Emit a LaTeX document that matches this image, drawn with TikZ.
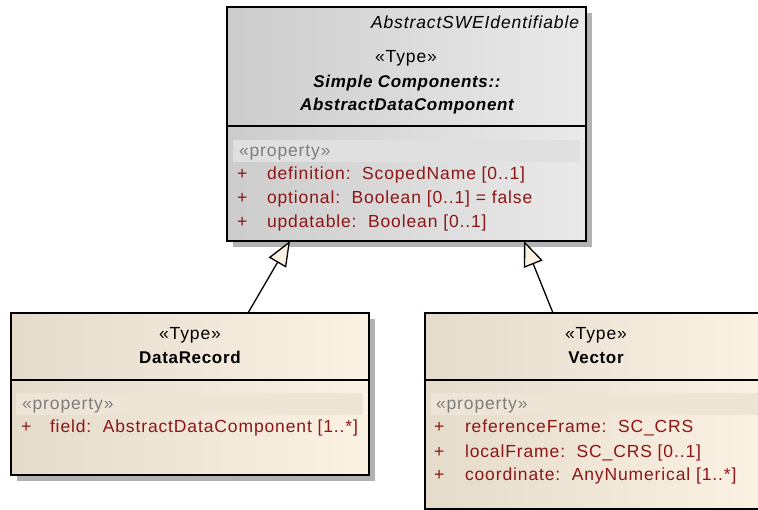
\documentclass[tikz,border=0pt]{standalone}
\usepackage{fontspec}
\setmainfont[LetterSpace=5]{Liberation Sans}
\newfontfamily\boldfam[LetterSpace=4]{Liberation Sans}
\usetikzlibrary{arrows.meta}
\definecolor{grayL}{RGB}{204,204,204}
\definecolor{grayR}{RGB}{234,234,234}
\definecolor{creamL}{RGB}{229,219,203}
\definecolor{creamR}{RGB}{252,242,228}
\definecolor{propband}{RGB}{224,224,224}
\definecolor{propbandC}{RGB}{239,229,215}
\definecolor{attrc}{RGB}{140,22,22}
\definecolor{stereoc}{RGB}{125,125,125}
\definecolor{shadowc}{RGB}{178,178,178}
\definecolor{arrowfill}{RGB}{251,241,227}
\tikzset{
  every node/.style={inner sep=0pt, outer sep=0pt},
  fnt/.style={font=\fontsize{17.5}{20}\selectfont},
  fit/.style={font=\fontsize{17.5}{20}\selectfont\itshape},
  fbi/.style={font=\boldfam\fontsize{17}{20}\selectfont\bfseries\itshape},
  fbd/.style={font=\boldfam\fontsize{17}{20}\selectfont\bfseries},
  attrtxt/.style={fnt, text=attrc, anchor=base west},
  stereotxt/.style={fnt, text=stereoc, anchor=base west},
  graybox/.style={draw=black, line width=1.5pt, left color=grayL, right color=grayR, anchor=north west},
  creambox/.style={draw=black, line width=1.5pt, left color=creamL, right color=creamR, anchor=north west},
  shadowbox/.style={fill=shadowc},
  divider/.style={draw=black, line width=1.5pt},
  gen/.style={draw=black, line width=1.3pt, -{Triangle[length=25pt, width=20pt, fill=arrowfill]}},
}
\begin{document}
\begin{tikzpicture}[x=1pt, y=-1pt]
\clip (0,0) rectangle (758,510);
\fill[white] (0,0) rectangle (758,510);

% ---------- top class ----------
\fill[shadowbox] (233,13) rectangle (592,247);
\node[graybox, minimum width=359pt, minimum height=234pt] (top) at (227,7) {};
\draw[divider] (top.west |- 0,126) -- (top.east |- 0,126);
\fill[propband] (233,140) rectangle (580,162);
\node[fit, anchor=base east] (absn) at (579,29) {AbstractSWEIdentifiable};
\node[fnt, anchor=base] (topst) at (406,63) {«Type»};
\node[fbi, anchor=base] (topn1) at (407,88) {Simple Components::};
\node[fbi, anchor=base] (topn2) at (407,111) {AbstractDataComponent};
\node[stereotxt] (topprop) at (239,157) {«property»};
\node[attrtxt] (tp1) at (237,180) {+};
\node[attrtxt] (ta1) at (267,180) {definition:\ \ ScopedName [0..1]};
\node[attrtxt] (tp2) at (237,204) {+};
\node[attrtxt] (ta2) at (267,204) {optional:\ \ Boolean [0..1] = false};
\node[attrtxt] (tp3) at (237,228) {+};
\node[attrtxt] (ta3) at (267,228) {updatable:\ \ Boolean [0..1]};

% ---------- DataRecord ----------
\fill[shadowbox] (17,319) rectangle (375,481);
\node[creambox, minimum width=358pt, minimum height=162pt] (dr) at (11,313) {};
\draw[divider] (dr.west |- 0,380) -- (dr.east |- 0,380);
\fill[propbandC] (16,393) rectangle (363,415);
\node[fnt, anchor=base] (drst) at (190,340) {«Type»};
\node[fbd, anchor=base] (drn) at (190,364) {DataRecord};
\node[stereotxt] (drprop) at (22,410) {«property»};
\node[attrtxt] (dp1) at (21,433) {+};
\node[attrtxt] (da1) at (50,433) {field:\ \ AbstractDataComponent [1..*]};

% ---------- Vector ----------
\fill[shadowbox] (431,319) rectangle (773,515);
\node[creambox, minimum width=342pt, minimum height=196pt] (vec) at (425,313) {};
\draw[divider] (vec.west |- 0,380) -- (vec.east |- 0,380);
\fill[propbandC] (431,393) rectangle (762,415);
\node[fnt, anchor=base] (vst) at (596,340) {«Type»};
\node[fbd, anchor=base] (vn) at (596,364) {Vector};
\node[stereotxt] (vprop) at (436,410) {«property»};
\node[attrtxt] (vp1) at (434,433) {+};
\node[attrtxt] (va1) at (465,433) {referenceFrame:\ \ SC\_CRS};
\node[attrtxt] (vp2) at (434,457) {+};
\node[attrtxt] (va2) at (465,457) {localFrame:\ \ SC\_CRS [0..1]};
\node[attrtxt] (vp3) at (434,481) {+};
\node[attrtxt] (va3) at (465,481) {coordinate:\ \ AnyNumerical [1..*]};

% ---------- generalizations ----------
\draw[gen] (dr.north -| 248,0) -- (top.south -| 290,0);
\draw[gen] (vec.north -| 553,0) -- (top.south -| 524,0);
\end{tikzpicture}
\end{document}
